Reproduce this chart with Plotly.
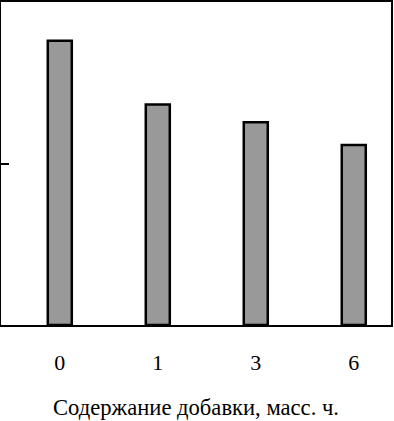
import plotly.graph_objects as go

categories = ["0", "1", "3", "6"]
values = [1.76, 1.365, 1.255, 1.115]

fig = go.Figure(go.Bar(
    x=[0, 1, 2, 3], y=values, width=0.245,
    marker=dict(color="#999999", line=dict(color="black", width=2.5)),
))
fig.update_layout(
    width=394, height=421,
    margin=dict(l=1, r=3, t=2, b=96),
    paper_bgcolor="white", plot_bgcolor="white",
    showlegend=False,
    font=dict(family="Liberation Serif", color="black", size=22),
)
fig.update_xaxes(
    range=[-0.6, 3.38], tickvals=[0, 1, 2, 3], ticktext=categories,
    showline=True, linecolor="black", linewidth=2, mirror=True,
    showgrid=False, zeroline=False, ticks="", ticklabelstandoff=17,
    tickfont=dict(size=22),
    title=dict(text="Содержание добавки, масс. ч.", standoff=25, font=dict(size=22.6)),
)
fig.update_yaxes(
    range=[0, 2], tickvals=[1], showticklabels=False,
    ticks="inside", ticklen=8, tickwidth=2, tickcolor="black",
    showline=True, linecolor="black", linewidth=2, mirror=True,
    showgrid=False, zeroline=False,
)
fig.write_html("out.html", config={"displayModeBar": False},
               post_script="document.body.style.margin='0';document.body.style.padding='0';")
